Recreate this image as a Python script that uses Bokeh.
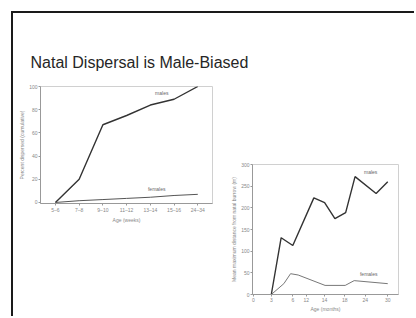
from bokeh.plotting import figure
from bokeh.models import Label, FixedTicker, Range1d
from bokeh.layouts import row, column
from bokeh.core.properties import value
from bokeh.embed import file_html
from bokeh.resources import INLINE

title_text = "Natal Dispersal is Male-Biased"

left_ages = ["5–6", "7–8", "9–10", "11–12", "13–14", "15–16", "24–34"]
left_males = [0, 20, 67, 75, 84, 89, 100]
left_females = [0, 1.5, 2.5, 3.5, 4.5, 6, 7]
left_yticks = [0, 20, 40, 60, 80, 100]

right_tick_pos = [0, 4, 8.8, 11.8, 15.9, 20.4, 25, 30]
right_tick_labels = ["0", "3", "6", "12", "14", "18", "24", "30"]
right_yticks = [0, 50, 100, 150, 200, 250, 300]
right_male_age = [4, 6.2, 8.8, 13.5, 15.9, 18.2, 20.6, 22.7, 27.4, 30]
right_male_dist = [0, 131, 113, 223, 212, 175, 189, 272, 233, 260]
right_female_age = [4, 6.8, 8.3, 10, 16, 20.5, 22.5, 30]
right_female_dist = [0, 25, 48, 45, 21, 21, 32, 25]

FONT = "Liberation Sans"
GREY = "#888888"


def style(p):
    p.grid.visible = False
    p.outline_line_color = "#d0d0d0"
    p.background_fill_color = "white"
    p.border_fill_color = "white"
    for ax in (p.xaxis, p.yaxis):
        ax.axis_line_color = "#999999"
        ax.major_tick_line_color = "#999999"
        ax.minor_tick_line_color = None
        ax.major_tick_out = 2
        ax.major_tick_in = 0
        ax.major_label_text_font = FONT
        ax.major_label_text_font_size = "5px"
        ax.major_label_text_color = GREY
        ax.major_label_standoff = 1
        ax.axis_label_text_font = FONT
        ax.axis_label_text_font_size = "5px"
        ax.axis_label_text_color = GREY
        ax.axis_label_text_font_style = "normal"
        ax.axis_label_standoff = 1


# header with the slide title
header = figure(width=401, height=70, output_backend="svg", toolbar_location=None,
                x_range=Range1d(0, 401), y_range=Range1d(0, 70),
                x_axis_location=None, y_axis_location=None, min_border=0)
header.grid.visible = False
header.outline_line_color = None
header.text(x=[17], y=[21], text=[title_text], text_font=value(FONT),
            text_font_size="16px", text_color="#262626", text_baseline="alphabetic")

pL = figure(width=215, height=233, output_backend="svg", toolbar_location=None,
            x_range=Range1d(-0.63, 6.62), y_range=Range1d(-0.9, 100),
            min_border_left=27, min_border_right=16, min_border_top=3, min_border_bottom=113)
style(pL)
xl = list(range(len(left_ages)))
pL.line(xl, left_males, line_color="#333333", line_width=1.4)
pL.line(xl, left_females, line_color="#555555", line_width=1.0)
pL.xaxis.ticker = FixedTicker(ticks=xl)
pL.xaxis.major_label_overrides = {i: s for i, s in enumerate(left_ages)}
pL.yaxis.ticker = FixedTicker(ticks=left_yticks)
pL.xaxis.axis_label = "Age (weeks)"
pL.yaxis.axis_label = "Percent dispersed (cumulative)"
pL.add_layout(Label(x=4.2, y=92, text="males", text_font=FONT, text_font_size="5px",
                    text_color="#666666"))
pL.add_layout(Label(x=3.9, y=9, text="females", text_font=FONT, text_font_size="5px",
                    text_color="#666666"))

pR = figure(width=186, height=233, output_backend="svg", toolbar_location=None,
            x_range=Range1d(-0.2, 32.4), y_range=Range1d(0, 300),
            min_border_left=18, min_border_right=16, min_border_top=81, min_border_bottom=22)
style(pR)
pR.line(right_male_age, right_male_dist, line_color="#333333", line_width=1.4)
pR.line(right_female_age, right_female_dist, line_color="#777777", line_width=1.0)
pR.xaxis.ticker = FixedTicker(ticks=right_tick_pos)
pR.xaxis.major_label_overrides = {t: s for t, s in zip(right_tick_pos, right_tick_labels)}
pR.yaxis.ticker = FixedTicker(ticks=right_yticks)
pR.xaxis.axis_label = "Age (months)"
pR.yaxis.axis_label = "Mean maximum distance from natal burrow (m)"
pR.add_layout(Label(x=24.7, y=275, text="males", text_font=FONT, text_font_size="5px",
                    text_color="#666666"))
pR.add_layout(Label(x=23.8, y=40, text="females", text_font=FONT, text_font_size="5px",
                    text_color="#666666"))

layout = column(column(header), row(column(pL), column(pR)), margin=(11, 0, 0, 11),
                styles={"border-top": "2px solid #1a1a1a", "border-left": "2px solid #1a1a1a"})
open("out.html", "w").write(file_html(layout, INLINE))
